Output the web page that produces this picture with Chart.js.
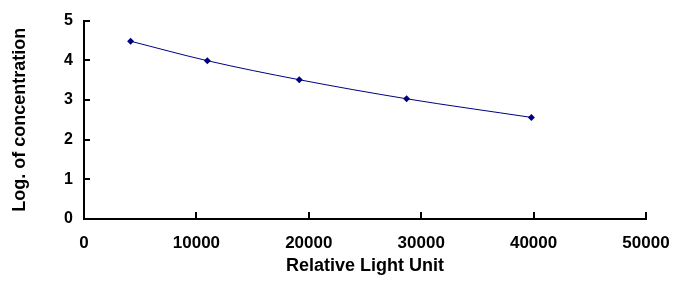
<!DOCTYPE html>
<html>
<head>
<meta charset="utf-8">
<script src="https://cdn.jsdelivr.net/npm/chart.js@4"></script>
<style>
  html, body { margin:0; padding:0; background:#fff; }
  #wrap { width:698px; height:288px; }
</style>
</head>
<body>
<div id="wrap"><canvas id="stdCurve" width="698" height="288"></canvas></div>
<script>
const rlu = [4150, 10970, 19150, 28700, 39800];
const logConc = [4.48, 3.99, 3.51, 3.03, 2.56];
const xTicks = [0, 10000, 20000, 30000, 40000, 50000];
const yTicks = [0, 1, 2, 3, 4, 5];

// Excel style: small tick marks pointing into the plot
const innerTicks = {
  id: 'innerTicks',
  afterDraw(chart){
    const {ctx, scales:{x, y}} = chart;
    ctx.save();
    ctx.strokeStyle = '#000';
    ctx.lineWidth = 2;
    ctx.beginPath();
    xTicks.slice(1).forEach(v => {
      const px = Math.round(x.getPixelForValue(v));
      ctx.moveTo(px, y.bottom);
      ctx.lineTo(px, y.bottom - 7);
    });
    yTicks.slice(1).forEach(v => {
      const py = Math.round(y.getPixelForValue(v));
      ctx.moveTo(x.left, py);
      ctx.lineTo(x.left + 6, py);
    });
    ctx.stroke();
    ctx.restore();
  }
};

DocumentReady(function(){
  const ctx = document.getElementById('stdCurve');
  new Chart(ctx, {
    type: 'scatter',
    data: {
      datasets: [{
        data: rlu.map((v, i) => ({x: v, y: logConc[i]})),
        showLine: true,
        borderColor: '#000080',
        borderWidth: 1,
        backgroundColor: '#000080',
        pointStyle: 'rectRot',
        pointRadius: 3.5,
        pointBorderWidth: 0,
        cubicInterpolationMode: 'monotone'
      }]
    },
    options: {
      responsive: false,
      animation: false,
      layout: { padding: { top: 19, right: 52, left: 0, bottom: 0 } },
      plugins: { legend: { display:false }, tooltip: { enabled:false } },
      scales: {
        x: {
          type: 'linear',
          min: 0, max: 50000,
          afterBuildTicks: s => { s.ticks = xTicks.map(v => ({value: v})); },
          afterFit: s => { s.height = 69; },
          grid: { display:false, drawTicks:false },
          border: { display:true, color:'#000', width:2 },
          ticks: {
            padding: 14,
            color: '#000',
            font: { family:'"Liberation Sans", Arial, sans-serif', size:17, weight:'bold' },
            callback: v => String(v)
          },
          title: {
            display: true,
            text: 'Relative Light Unit',
            color: '#000',
            padding: { top: 0, bottom: 11 },
            font: { family:'"Liberation Sans", Arial, sans-serif', size:18, weight:'bold' }
          }
        },
        y: {
          min: 0, max: 5,
          afterBuildTicks: s => { s.ticks = yTicks.map(v => ({value: v})); },
          afterFit: s => { s.width = 84; },
          grid: { display:false, drawTicks:false },
          border: { display:true, color:'#000', width:2 },
          ticks: {
            padding: 11,
            color: '#000',
            font: { family:'"Liberation Sans", Arial, sans-serif', size:16, weight:'bold' },
            callback: v => String(v)
          },
          title: {
            display: true,
            text: 'Log. of concentration',
            color: '#000',
            padding: { top: 9, bottom: 0 },
            font: { family:'"Liberation Sans", Arial, sans-serif', size:18, weight:'bold' }
          }
        }
      }
    },
    plugins: [innerTicks]
  });
});

function DocumentReady(cb){
  if(document.readyState!=='loading')cb();
  else document.addEventListener('DOMContentLoaded',cb);
}
</script>
</body>
</html>
